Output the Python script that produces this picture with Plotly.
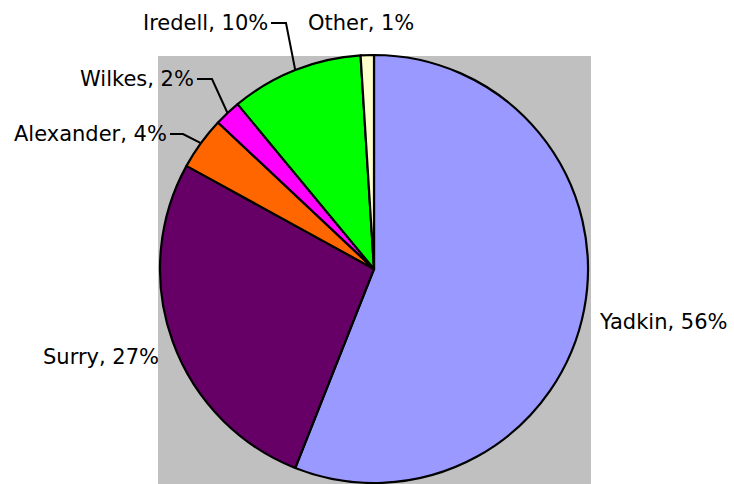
import math
import plotly.graph_objects as go

counties = ["Yadkin", "Surry", "Alexander", "Wilkes", "Iredell", "Other"]
shares = [56, 27, 4, 2, 10, 1]
colors = ["#9999FF", "#660066", "#FF6600", "#FF00FF", "#00FF00", "#FFFFCC"]

W, H = 734, 484
CX, CY, R = 374, 269, 214          # pie centre / radius in pixels (layout)
FONT = dict(family="DejaVu Sans, sans-serif", size=21, color="black")

# label placement (layout only): text anchor pixel, anchor side, elbow pixel or None
label_style = {
    "Yadkin":    dict(pos=(597, 322), side="left",  elbow=None),
    "Surry":     dict(pos=(161, 357), side="right", elbow=None),
    "Alexander": dict(pos=(169, 134), side="right", elbow=(183, 134)),
    "Wilkes":    dict(pos=(196, 79),  side="right", elbow=(212, 79)),
    "Iredell":   dict(pos=(270, 23),  side="right", elbow=(286, 23)),
    "Other":     dict(pos=(306, 23),  side="left",  elbow=None),
}

def px(x):
    return x / W

def py(y):
    return 1 - y / H

fig = go.Figure(go.Pie(
    labels=counties,
    values=shares,
    sort=False,
    direction="clockwise",
    rotation=0,
    marker=dict(colors=colors, line=dict(color="black", width=2.2)),
    textinfo="none",
    automargin=False,
    showlegend=False,
    domain=dict(x=[px(CX - R), px(CX + R)], y=[py(CY + R), py(CY - R)]),
    hoverinfo="label+percent",
))

fig.add_shape(type="rect", xref="paper", yref="paper",
              x0=px(158), x1=px(591), y0=0, y1=py(56),
              fillcolor="#C0C0C0", line=dict(width=0), layer="below")

total = sum(shares)
cum = 0
for name, v in zip(counties, shares):
    mid = (cum + v / 2) / total * 2 * math.pi
    cum += v
    ex = CX + R * math.sin(mid)
    ey = CY - R * math.cos(mid)
    st = label_style[name]
    lx, ly = st["pos"]
    pct = round(v / total * 100)
    fig.add_annotation(
        x=px(lx), y=py(ly), xref="paper", yref="paper",
        text=f"{name}, {pct}%", showarrow=False,
        xanchor=st["side"], yanchor="middle", font=FONT,
    )
    if st["elbow"] is not None:
        bx, by = st["elbow"]
        start_x = lx + 1 if st["side"] == "right" else lx - 1
        fig.add_shape(
            type="path", xref="paper", yref="paper",
            path=f"M {px(start_x)} {py(by)} L {px(bx)} {py(by)} L {px(ex)} {py(ey)}",
            line=dict(color="black", width=2),
        )

fig.update_layout(
    width=W, height=H,
    margin=dict(l=0, r=0, t=0, b=0),
    paper_bgcolor="white",
    plot_bgcolor="white",
)

fig.write_html("out.html", config={"displayModeBar": False},
               post_script="document.body.style.margin='0';")
